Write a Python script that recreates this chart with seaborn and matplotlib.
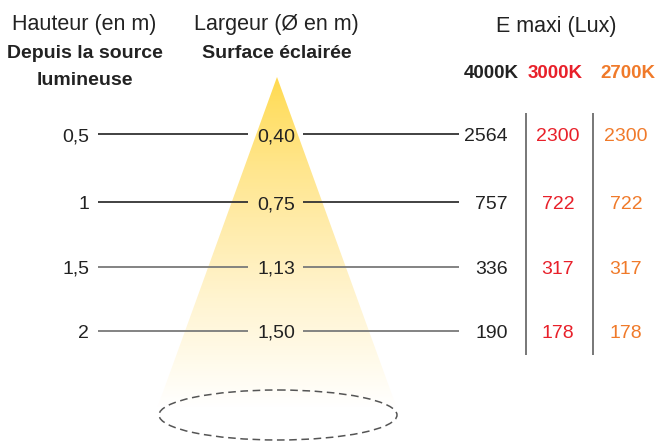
import numpy as np
import matplotlib
matplotlib.use("Agg")
import matplotlib.pyplot as plt
from matplotlib.patches import Polygon, Ellipse
from matplotlib.colors import LinearSegmentedColormap
import seaborn as sns

# ---- data ----
hauteurs = ["0,5", "1", "1,5", "2"]
largeurs = ["0,40", "0,75", "1,13", "1,50"]
lux_4000 = [2564, 757, 336, 190]
lux_3000 = [2300, 722, 317, 178]
lux_2700 = [2300, 722, 317, 178]
temp_labels = ["4000K", "3000K", "2700K"]
temp_colors = ["#222222", "#e8202a", "#f07a2a"]

sns.set_theme(style="white")
plt.rcParams["font.family"] = ["Liberation Sans", "DejaVu Sans"]

W, H = 659, 441
fig = plt.figure(figsize=(W / 100, H / 100), dpi=100)
ax = fig.add_axes([0, 0, 1, 1])
ax.set_xlim(0, W)
ax.set_ylim(H, 0)
ax.axis("off")

# ---- cone with vertical gradient ----
apex = (277, 77)
base_y = 408
slope = 0.362
cone = Polygon([apex, (277 - slope * (base_y - 77), base_y), (277 + slope * (base_y - 77), base_y)],
               closed=True, facecolor="none", edgecolor="none")
ax.add_patch(cone)
stops = [(0.0, "#ffd94e"), (0.07, "#ffde62"), (0.28, "#ffe68e"), (0.48, "#ffedb0"),
         (0.67, "#fff4d0"), (0.87, "#fffbec"), (1.0, "#ffffff")]
cmap = LinearSegmentedColormap.from_list("cone", stops)
grad = np.linspace(0, 1, 256).reshape(-1, 1)
im = ax.imshow(grad, cmap=cmap, extent=(150, 405, base_y, 77), aspect="auto", zorder=1)
im.set_clip_path(cone)

# dashed ellipse at the base
ax.add_patch(Ellipse((278, 415), 238, 50, fill=False, edgecolor="#555555",
                     linewidth=1.1, linestyle=(0, (5, 3)), zorder=2))

# ---- headers ----
txt = "#222222"
ax.text(84, 30, "Hauteur (en m)", ha="center", va="baseline", fontsize=15.5, color=txt)
ax.text(85, 58.5, "Depuis la source", ha="center", va="baseline", fontsize=14,
        fontweight="bold", color=txt)
ax.text(85, 85, "lumineuse", ha="center", va="baseline", fontsize=14,
        fontweight="bold", color=txt)
ax.text(276, 30, "Largeur (Ø en m)", ha="center", va="baseline", fontsize=15.5, color=txt)
ax.text(277, 58.5, "Surface éclairée", ha="center", va="baseline", fontsize=14,
        fontweight="bold", color=txt)
ax.text(556, 32, "E maxi (Lux)", ha="center", va="baseline", fontsize=15.5, color=txt)
for x, lab, c in zip([491, 555, 628], temp_labels, temp_colors):
    ax.text(x, 78, lab, ha="center", va="baseline", fontsize=13.5, fontweight="bold", color=c)

# ---- rows ----
row_y = [134, 202, 267, 331]
line_cols = ["#333333", "#333333", "#7a7a7a", "#7a7a7a"]
for i, y in enumerate(row_y):
    ax.hlines(y, 98, 248, color=line_cols[i], linewidth=1.3, zorder=3)
    ax.hlines(y, 303, 459, color=line_cols[i], linewidth=1.3, zorder=3)
    ax.text(89, y + 7, hauteurs[i], ha="right", va="baseline", fontsize=14, color=txt, zorder=4)
    ax.text(276, y + 7, largeurs[i], ha="center", va="baseline", fontsize=14, color=txt, zorder=4)
    ax.text(508, y + 7, str(lux_4000[i]), ha="right", va="baseline", fontsize=14, color=txt)
    ax.text(558, y + 7, str(lux_3000[i]), ha="center", va="baseline", fontsize=14, color=temp_colors[1])
    ax.text(626, y + 7, str(lux_2700[i]), ha="center", va="baseline", fontsize=14, color=temp_colors[2])

# column separators
ax.vlines([526, 593], 113, 355, color="#777777", linewidth=1.4)

fig.savefig("out.png", dpi=100)
